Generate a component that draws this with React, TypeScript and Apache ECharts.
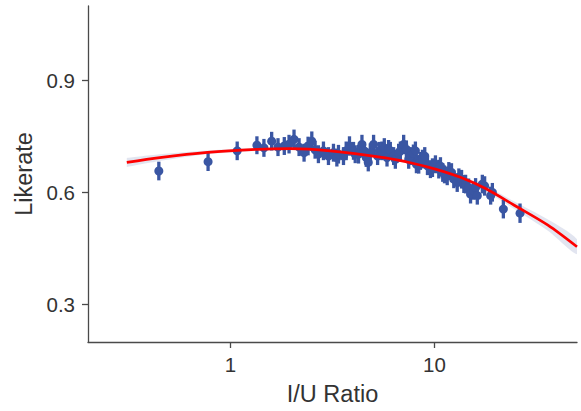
import React, { useEffect, useRef } from "react";
import * as echarts from "echarts";

// Observed points (I/U ratio, likerate, half error bar)
const ratio = [
  0.445, 0.776, 1.078, 1.347, 1.458, 1.591, 1.709, 1.835, 1.936, 2.048,
  2.168, 2.294, 2.4, 2.503, 2.598, 2.697, 2.855, 3.021, 3.197, 3.322,
  3.383, 3.58, 3.691, 3.831, 4.009, 4.087, 4.243, 4.41, 4.526, 4.629,
  4.736, 4.845, 5.029, 5.262, 5.364, 5.53, 5.676, 5.852, 5.959, 6.075,
  6.306, 6.429, 6.674, 6.804, 7.063, 7.283, 7.475, 7.62, 7.884, 8.064,
  8.157, 8.372, 8.534, 8.73, 8.961, 9.24, 9.557, 9.777, 10.11, 10.5,
  10.7, 10.98, 11.2, 11.55, 11.76, 12.12, 12.44, 12.93, 13.17, 13.58,
  13.94, 14.21, 14.7, 15.03, 15.55, 15.91, 16.22, 17.17, 17.62, 18.86,
  19.23, 21.77, 26.28,
];
const likerate = [
  0.658, 0.683, 0.712, 0.727, 0.72, 0.738, 0.722, 0.725, 0.73, 0.743,
  0.722, 0.707, 0.725, 0.738, 0.715, 0.703, 0.712, 0.698, 0.707, 0.694,
  0.703, 0.698, 0.712, 0.725, 0.712, 0.703, 0.703, 0.729, 0.712, 0.694,
  0.681, 0.707, 0.729, 0.698, 0.712, 0.712, 0.72, 0.694, 0.716, 0.712,
  0.698, 0.689, 0.707, 0.712, 0.729, 0.716, 0.689, 0.698, 0.705, 0.712,
  0.676, 0.676, 0.685, 0.69, 0.698, 0.672, 0.663, 0.667, 0.676, 0.663,
  0.671, 0.654, 0.649, 0.645, 0.658, 0.654, 0.636, 0.627, 0.641, 0.636,
  0.623, 0.623, 0.614, 0.596, 0.605, 0.614, 0.592, 0.623, 0.618, 0.592,
  0.601, 0.556, 0.545,
];
const errHalf = [
  0.025, 0.025, 0.025, 0.024, 0.024, 0.025, 0.024, 0.024, 0.025, 0.026,
  0.024, 0.024, 0.025, 0.026, 0.024, 0.024, 0.025, 0.024, 0.024, 0.024,
  0.025, 0.024, 0.025, 0.026, 0.024, 0.024, 0.025, 0.026, 0.024, 0.025,
  0.024, 0.025, 0.026, 0.024, 0.024, 0.025, 0.026, 0.024, 0.025, 0.024,
  0.024, 0.025, 0.024, 0.025, 0.026, 0.024, 0.025, 0.024, 0.024, 0.025,
  0.024, 0.025, 0.024, 0.025, 0.024, 0.025, 0.024, 0.025, 0.024, 0.025,
  0.024, 0.025, 0.024, 0.025, 0.024, 0.025, 0.024, 0.025, 0.024, 0.025,
  0.024, 0.025, 0.024, 0.025, 0.024, 0.025, 0.024, 0.025, 0.026, 0.024,
  0.025, 0.025, 0.026,
];

// Fitted curve and its confidence band
const fitX = [0.31, 0.45, 0.77, 1.35, 1.96, 3.08, 5.74, 7.62, 10.1, 13.4, 17.8, 24.5, 36, 50];
const fitY = [0.681, 0.694, 0.708, 0.716, 0.718, 0.712, 0.693, 0.68, 0.663, 0.641, 0.611, 0.567, 0.513, 0.455];
const fitCi = [0.012, 0.009, 0.005, 0.004, 0.003, 0.003, 0.003, 0.004, 0.004, 0.005, 0.007, 0.01, 0.015, 0.02];

const xTicks = [1, 10];
const yTicks = [0.3, 0.6, 0.9];

const FONT = "Liberation Sans, Arial, sans-serif";
const AXIS_COLOR = "#4a4a4a";
const TEXT_COLOR = "#333333";
const POINT_COLOR = "#3a56a3";

export default function App() {
  const ref = useRef<HTMLDivElement>(null);

  useEffect(() => {
    document.body.style.margin = "0";
    if (!ref.current) return;
    const chart = echarts.init(ref.current, null, { renderer: "svg" });

    const points = ratio.map((x, i) => [x, likerate[i]]);
    const bars = ratio.map((x, i) => [x, likerate[i] - errHalf[i], likerate[i] + errHalf[i]]);
    const fit = fitX.map((x, i) => [x, fitY[i]]);

    chart.setOption({
      animation: false,
      grid: { left: 88, right: 4, top: 6, bottom: 68, containLabel: false },
      xAxis: {
        type: "log",
        logBase: 10,
        min: 0.2,
        max: 50,
        name: "I/U Ratio",
        nameLocation: "middle",
        nameGap: 40,
        nameTextStyle: { fontFamily: FONT, fontSize: 23.5, color: TEXT_COLOR },
        axisLine: { show: true, lineStyle: { color: AXIS_COLOR, width: 1.3 } },
        axisTick: { show: true, length: 6, customValues: xTicks, lineStyle: { color: AXIS_COLOR, width: 1.3 } },
        axisLabel: {
          customValues: xTicks,
          fontFamily: FONT,
          fontSize: 20.5,
          color: TEXT_COLOR,
          margin: 12,
          formatter: (v: number) => String(Math.round(v)),
        },
        splitLine: { show: false },
        minorTick: { show: false },
      },
      yAxis: {
        type: "value",
        min: 0.2,
        max: 1.1,
        name: "Likerate",
        nameLocation: "middle",
        nameGap: 51,
        nameTextStyle: { fontFamily: FONT, fontSize: 23.5, color: TEXT_COLOR },
        axisLine: { show: true, lineStyle: { color: AXIS_COLOR, width: 1.3 } },
        axisTick: { show: true, length: 6, customValues: yTicks, lineStyle: { color: AXIS_COLOR, width: 1.3 } },
        axisLabel: {
          customValues: yTicks,
          fontFamily: FONT,
          fontSize: 20.5,
          color: TEXT_COLOR,
          margin: 13,
          formatter: (v: number) => v.toFixed(1),
        },
        splitLine: { show: false },
      },
      series: [
        {
          type: "custom",
          data: [[fitX[0], fitY[0]]],
          renderItem: (params: any, api: any) => {
            const upper = fitX.map((x, i) => api.coord([x, fitY[i] + fitCi[i]]));
            const lower = fitX.map((x, i) => api.coord([x, fitY[i] - fitCi[i]]));
            return {
              type: "group",
              children: [
                {
                  type: "polyline",
                  shape: { points: upper.concat(lower.slice().reverse()), smooth: 0.3 },
                  style: { fill: "rgba(190,198,222,0.45)", stroke: "none" },
                },
              ],
            };
          },
          clip: true,
          silent: true,
          z: 1,
        },
        {
          type: "custom",
          data: bars,
          renderItem: (params: any, api: any) => {
            const x = api.value(0);
            const p1 = api.coord([x, api.value(1)]);
            const p2 = api.coord([x, api.value(2)]);
            return {
              type: "line",
              shape: { x1: p1[0], y1: p1[1], x2: p2[0], y2: p2[1] },
              style: { stroke: POINT_COLOR, lineWidth: 3.3 },
            };
          },
          encode: { x: 0, y: [1, 2] },
          silent: true,
          z: 2,
        },
        {
          type: "scatter",
          data: points,
          symbol: "circle",
          symbolSize: 9,
          itemStyle: { color: POINT_COLOR, opacity: 1 },
          silent: true,
          z: 3,
        },
        {
          type: "line",
          data: fit,
          symbol: "none",
          smooth: 0.3,
          lineStyle: { color: "#ff0000", width: 2.7 },
          silent: true,
          z: 4,
        },
      ],
    });

    return () => chart.dispose();
  }, []);

  return <div ref={ref} style={{ width: 581, height: 411 }} />;
}
